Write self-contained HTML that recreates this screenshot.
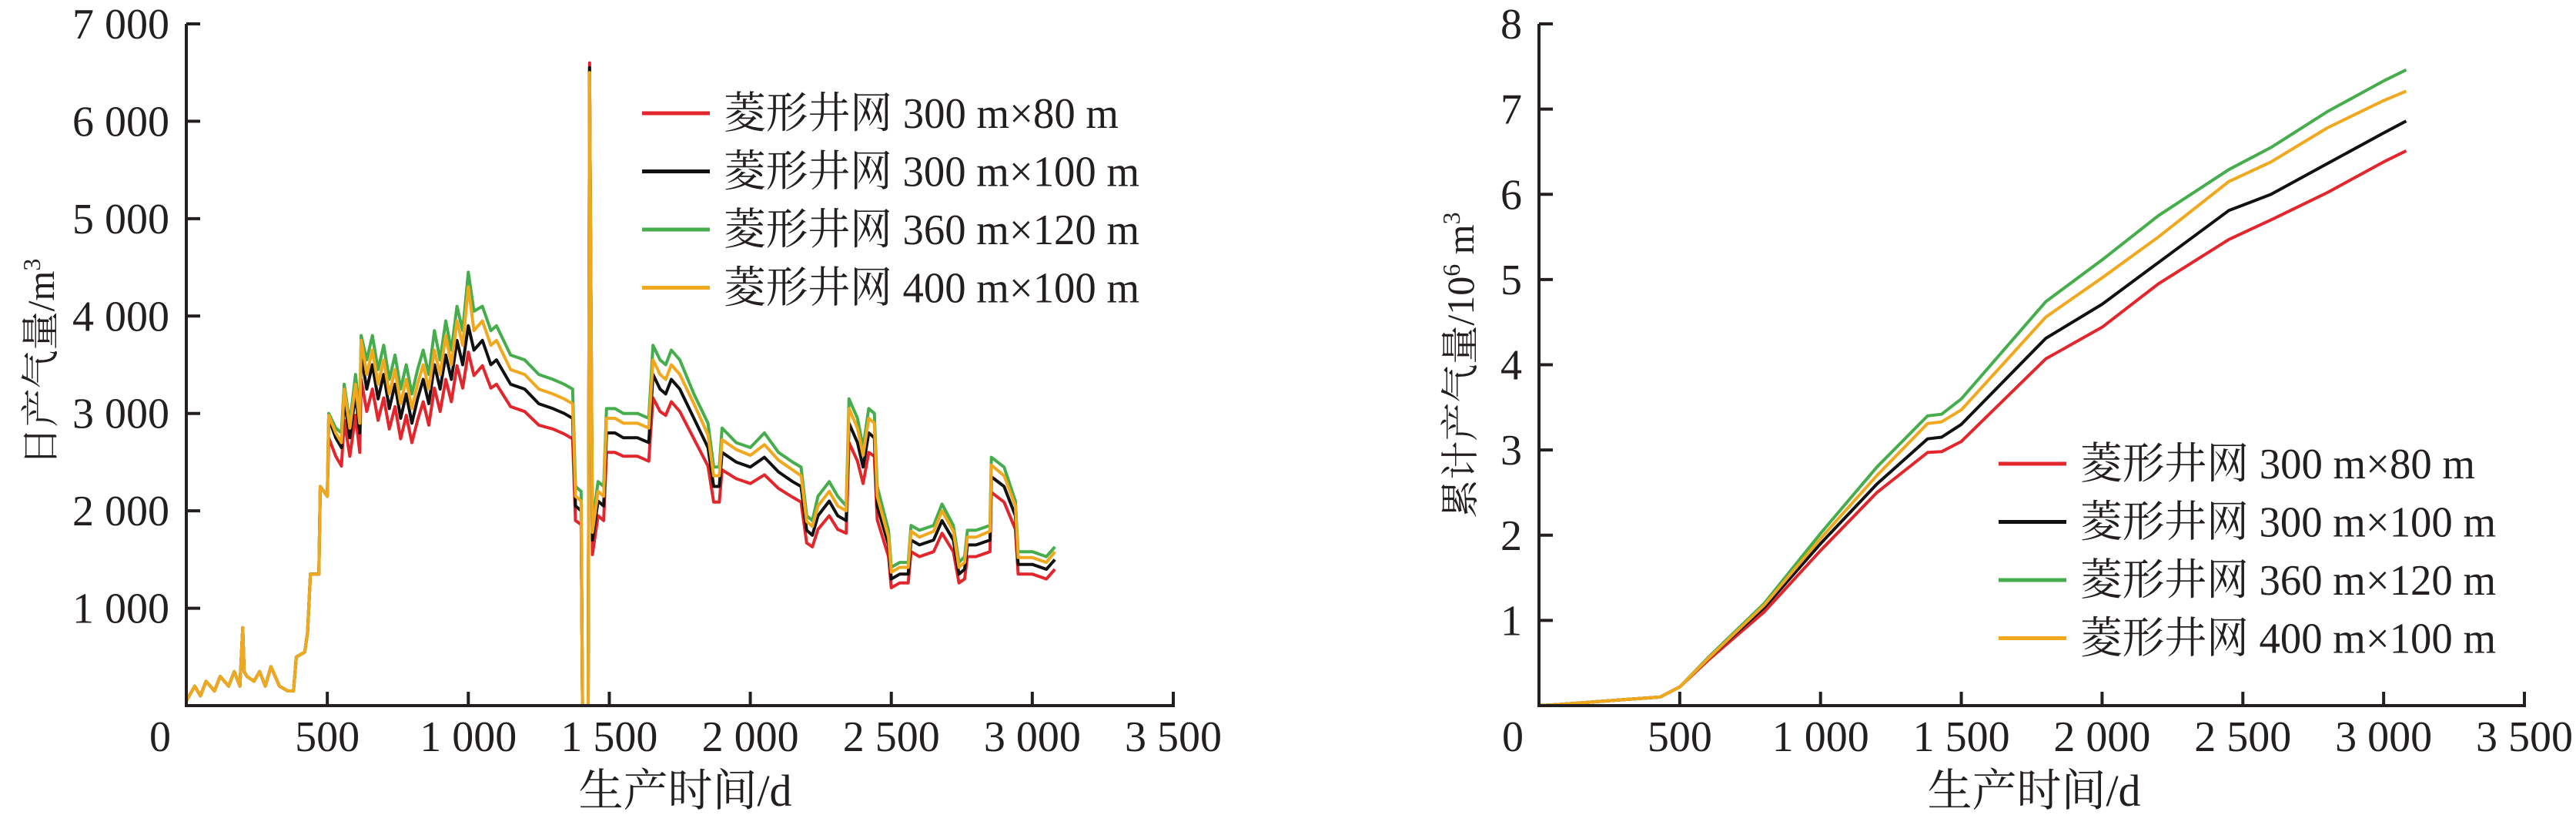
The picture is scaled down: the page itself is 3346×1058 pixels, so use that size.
<!DOCTYPE html>
<html><head><meta charset="utf-8">
<style>
html,body{margin:0;padding:0;background:#fff;}
svg{display:block;}
text{font-family:"Liberation Serif","Noto Serif CJK SC",serif;fill:#231f20;}
</style></head>
<body>
<svg id="chart" xmlns="http://www.w3.org/2000/svg" width="3346" height="1058" viewBox="0 0 3346 1058"></svg>
<script>
// ---------- Left chart data (daily gas production, m3) ----------
const dayDaily = [0,30,50,70,100,120,150,170,190,200,205,215,240,260,280,300,330,360,380,390,420,430,440,470,475,500,
505,530,550,560,580,600,615,620,640,660,680,700,720,740,760,780,800,820,840,860,880,900,920,940,960,980,1000,1020,1050,1080,1100,1150,1200,1250,1300,1340,1370,1380,1400,1405,1425,1430,1440,1460,1480,1490,1520,1550,1600,1640,1655,1680,1700,1720,1750,1800,1850,1870,1890,1900,1950,2000,2050,2100,2150,2180,2200,2220,2240,2280,2310,2340,2350,2380,2400,2420,2440,2450,2490,2500,2530,2560,2570,2600,2650,2680,2720,2740,2760,2770,2800,2850,2855,2900,2940,2950,3000,3050,3080];
const dailyRed = [50,200,100,250,150,300,200,350,200,800,350,300,250,350,200,400,200,150,150,500,550,750,1350,1350,2250,2150,
2750,2560,2460,2930,2560,2980,2600,3350,3020,3250,2930,3160,2840,3070,2740,2980,2700,2930,3120,2880,3260,3020,3350,3120,3490,3260,3630,3390,3490,3260,3300,3070,3020,2880,2840,2790,2740,1900,1860,0,0,6600,1550,1950,1900,2600,2600,2560,2560,2510,3160,3020,2980,3120,3020,2740,2460,2090,2090,2420,2330,2280,2370,2230,2140,2090,1670,1630,1810,1950,1810,1770,2700,2510,2280,2600,2560,1910,1530,1210,1260,1260,1580,1530,1580,1770,1580,1260,1300,1530,1530,1580,2190,2090,1810,1350,1350,1300,1400];
const dailyBlack = [50,200,100,250,150,300,200,350,200,800,350,300,250,350,200,400,200,150,150,500,550,750,1350,1350,2250,2150,
2950,2750,2650,3150,2750,3200,2800,3600,3250,3500,3150,3400,3050,3300,2950,3200,2900,3150,3350,3100,3500,3250,3600,3350,3750,3500,3900,3650,3750,3500,3550,3300,3250,3100,3050,3000,2950,2050,2000,0,0,6550,1700,2100,2050,2800,2800,2750,2750,2700,3400,3250,3200,3350,3250,2950,2650,2250,2250,2600,2500,2450,2550,2400,2300,2250,1800,1750,1950,2100,1950,1900,2900,2700,2450,2800,2750,2050,1650,1300,1350,1350,1700,1650,1700,1900,1700,1350,1400,1650,1650,1700,2350,2250,1950,1450,1450,1400,1500];
const dailyGreen = [50,200,100,250,150,300,200,350,200,800,350,300,250,350,200,400,200,150,150,500,550,750,1350,1350,2250,2150,
3000,2850,2800,3300,2900,3400,3000,3800,3550,3800,3450,3700,3350,3600,3250,3500,3200,3450,3650,3400,3850,3550,3950,3650,4100,3850,4450,4050,4100,3850,3900,3600,3550,3400,3350,3300,3250,2250,2200,0,0,6500,1850,2300,2250,3050,3050,3000,3000,2950,3700,3550,3500,3650,3550,3200,2900,2450,2450,2850,2700,2650,2800,2600,2500,2450,1950,1900,2150,2300,2150,2050,3150,2950,2650,3050,3000,2250,1800,1420,1470,1470,1850,1800,1850,2070,1850,1470,1530,1800,1800,1850,2550,2450,2100,1580,1580,1530,1630];
const dailyYellow = [50,200,100,250,150,300,200,350,200,800,350,300,250,350,200,400,200,150,150,500,550,750,1350,1350,2250,2150,
2980,2800,2700,3250,2850,3300,2900,3750,3400,3650,3300,3550,3200,3450,3100,3350,3050,3300,3500,3250,3650,3400,3800,3500,3950,3700,4300,3850,3950,3700,3750,3450,3400,3250,3200,3150,3100,2150,2100,0,0,6500,1780,2200,2150,2950,2950,2900,2900,2850,3550,3400,3350,3500,3400,3100,2780,2360,2360,2730,2630,2570,2680,2520,2420,2360,1890,1840,2050,2200,2050,2000,3050,2850,2570,2950,2900,2150,1730,1370,1420,1420,1790,1730,1790,2000,1790,1420,1470,1730,1730,1790,2470,2360,2050,1520,1520,1470,1580];
const leftYTicks = [1000,2000,3000,4000,5000,6000,7000];
const leftYLabels = ["1 000","2 000","3 000","4 000","5 000","6 000","7 000"];
// ---------- Right chart data (cumulative, 10^6 m3) ----------
const dayCum = [0,100,300,430,500,600,800,1000,1200,1380,1430,1500,1800,2000,2200,2450,2600,2800,3000,3080];
const cumRed = [0,0.02,0.07,0.1,0.22,0.53,1.1,1.82,2.5,2.97,2.98,3.1,4.07,4.44,4.95,5.47,5.7,6.02,6.38,6.51];
const cumBlack = [0,0.02,0.07,0.1,0.22,0.55,1.15,1.9,2.6,3.13,3.15,3.3,4.31,4.71,5.2,5.81,6.0,6.36,6.72,6.86];
const cumGreen = [0,0.02,0.07,0.1,0.22,0.56,1.2,2.02,2.8,3.40,3.42,3.6,4.74,5.23,5.75,6.29,6.55,6.97,7.33,7.46];
const cumYellow = [0,0.02,0.07,0.1,0.22,0.55,1.18,1.96,2.7,3.31,3.33,3.47,4.56,5.02,5.5,6.15,6.38,6.78,7.1,7.21];
const rightYTicks = [1,2,3,4,5,6,7,8];
const rightYLabels = ["1","2","3","4","5","6","7","8"];
const xTicks = [0,500,1000,1500,2000,2500,3000,3500];
const xLabels = ["0","500","1 000","1 500","2 000","2 500","3 000","3 500"];
const legendLabels = ["菱形井网 300 m×80 m","菱形井网 300 m×100 m","菱形井网 360 m×120 m","菱形井网 400 m×100 m"];

const COLORS = ["#e2262b","#111111","#45ad4c","#f2a81d"];
const NS = "http://www.w3.org/2000/svg";
const svg = document.getElementById('chart');
function mk(tag, attrs, parent){
  const e = document.createElementNS(NS, tag);
  for (const k in attrs) e.setAttribute(k, attrs[k]);
  (parent||svg).appendChild(e);
  return e;
}

function drawPanel(p){
  const g = mk('g', {});
  
  
  const X = d => p.x0 + (d/3500)*(p.x1-p.x0);
  const Y = v => p.y0 - (v/p.ymax)*(p.y0-p.y1);
  p.series.forEach((s,i)=>{
    const n = Math.min(p.days.length, s.length);
    let dstr = '';
    for (let k=0;k<n;k++) dstr += (k?'L':'M') + X(p.days[k]).toFixed(1) + ' ' + Y(s[k]).toFixed(1);
    const path = mk('path', {d:dstr, fill:'none', stroke:COLORS[i], 'stroke-width':4, 'stroke-linejoin':'round'}, g);
    
    
  });
  const ax = mk('path', {d:`M${p.x0} ${p.y1} V${p.y0} H${p.x1} V${p.y0-18}`, fill:'none', stroke:'#231f20', 'stroke-width':4}, g);
  
  
  p.yTicks.forEach((v,i)=>{
    const y = Y(v);
    const t = mk('line', {x1:p.x0, x2:p.x0+18, y1:y, y2:y, stroke:'#231f20','stroke-width':4}, g);
    
    
    const lb = mk('text', {x:p.x0-22, y:y+19, 'font-size':56, 'text-anchor':'end'}, g);
    lb.textContent = p.yLabels[i];
    
    
  });
  xTicks.forEach((d,i)=>{
    const x = X(d);
    if (d>0){
      const t = mk('line', {x1:x, x2:x, y1:p.y0, y2:p.y0-18, stroke:'#231f20','stroke-width':4}, g);
      
      
    }
    const lb = mk('text', {x: d===0 ? x-34 : x, y:975, 'font-size':56, 'text-anchor':'middle'}, g);
    lb.textContent = xLabels[i];
    
    
  });
  const xt = mk('text', {x:p.xTitleX, y:1046, 'font-size':58, 'text-anchor':'middle'}, g);
  xt.textContent = '生产时间/d';
  
  
  const yt = mk('text', {x:0, y:0, 'font-size':50, 'text-anchor':'middle', transform:`translate(${p.yTitleX},${p.yTitleY}) rotate(-90)`}, g);
  yt.innerHTML = p.yTitle;
  
  
  const lg = mk('g', {}, g);
  
  
  legendLabels.forEach((s,i)=>{
    const y = p.legY + i*75.5;
    const ln = mk('line', {x1:p.legX, x2:p.legX+88, y1:y, y2:y, stroke:COLORS[i], 'stroke-width':5}, lg);
    
    
    const tx = mk('text', {x:p.legX+106, y:y+19, 'font-size':56, textLength: i===0?513:540, lengthAdjust:'spacingAndGlyphs'}, lg);
    tx.textContent = s;
    
    
  });
}

drawPanel({name:'daily-production-chart', x0:242, x1:1524, y0:916, y1:31, ymax:7000,
  days:dayDaily, series:[dailyRed,dailyBlack,dailyGreen,dailyYellow],
  yTicks:leftYTicks, yLabels:leftYLabels, xTitleX:890,
  yTitleX:70, yTitleY:470, yTitle:'日产气量/m<tspan dy="-18" font-size="32">3</tspan>',
  legX:834, legY:147});
drawPanel({name:'cumulative-production-chart', x0:1999, x1:3279, y0:916, y1:31, ymax:8,
  days:dayCum, series:[cumRed,cumBlack,cumGreen,cumYellow],
  yTicks:rightYTicks, yLabels:rightYLabels, xTitleX:2642,
  yTitleX:1914, yTitleY:474, yTitle:'累计产气量/10<tspan dy="-18" font-size="32">6</tspan><tspan dy="18"> m</tspan><tspan dy="-18" font-size="32">3</tspan>',
  legX:2596, legY:602});
</script>
</body></html>
